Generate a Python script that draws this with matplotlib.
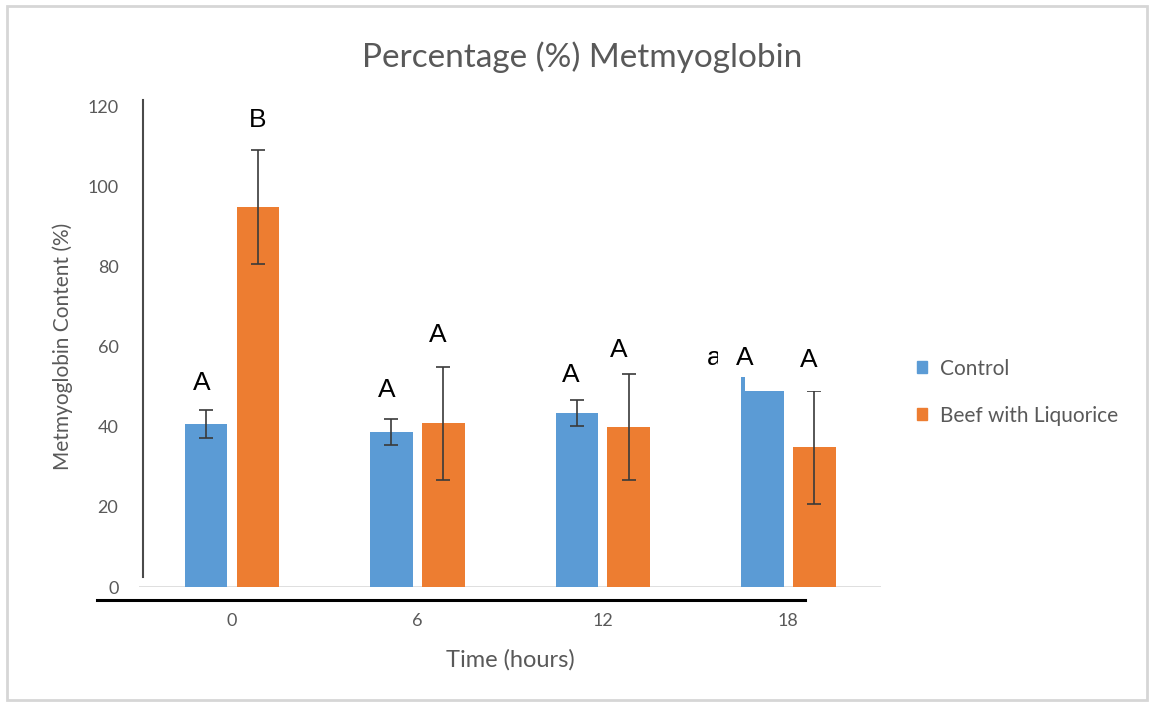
import matplotlib
matplotlib.use("Agg")
import matplotlib.pyplot as plt
from matplotlib.patches import Patch, Rectangle
from matplotlib.lines import Line2D
import numpy as np

# values
hours = ["0", "6", "12", "18"]
control = [40.7, 38.7, 43.4, 52.5]
control_err = [3.5, 3.2, 3.3, 3.0]
liquorice = [94.8, 40.8, 39.9, 34.9]
liquorice_err = [14.2, 14.0, 13.3, 14.1]

# significance letters: (label, category, x offset, y)
letters = [
    ("A", 0, -0.161, 50.9),
    ("B", 0, 0.14, 116.5),
    ("A", 1, -0.167, 49.1),
    ("A", 1, 0.108, 62.8),
    ("A", 2, -0.172, 52.9),
    ("A", 2, 0.086, 59.1),
    ("a", 3, -0.40, 57.1),
    ("A", 3, -0.237, 57.1),
    ("A", 3, 0.113, 56.6),
]

BLUE = "#5B9BD5"
ORANGE = "#ED7D31"
GRAY = "#595959"

plt.rcParams['font.family'] = ['Lato', 'DejaVu Sans']

fig = plt.figure(figsize=(11.5, 7.02), dpi=100)
ax = fig.add_axes([0.1211, 0.1638, 0.645, 0.6852])

x = np.arange(len(hours))
width = 0.23
off = 0.14
err_style = dict(ecolor="#3a3a3a", elinewidth=1.2, capsize=5, capthick=1.2)
ax.bar(x - off, control, width, color=BLUE, yerr=control_err,
       error_kw=err_style, label="Control", zorder=2)
ax.bar(x + off, liquorice, width, color=ORANGE, yerr=liquorice_err,
       error_kw=err_style, label="Beef with Liquorice", zorder=2)

# white text boxes pasted over the chart hide part of the last blue bar
ax.add_patch(Rectangle((3 - off - width / 2 + 0.022, 49.0), 0.5, 12,
                       facecolor="white", edgecolor="none", zorder=4))
ax.add_patch(Rectangle((3 - 0.378, 53.5), 0.06, 8,
                       facecolor="white", edgecolor="none", zorder=6))

for lab, i, dx, y in letters:
    ax.text(i + dx, y, lab, ha="center", va="center", fontsize=19,
            family=["Liberation Sans"], color="black", zorder=5)

ax.set_xlim(-0.5, 3.5)
ax.set_ylim(0, 120)
ax.set_xticks(x)
ax.set_xticklabels(hours)
ax.set_yticks(range(0, 121, 20))
ax.tick_params(length=0, labelsize=13, labelcolor=GRAY)
ax.tick_params(axis="x", pad=19)
ax.tick_params(axis="y", pad=15)
for s in ax.spines.values():
    s.set_visible(False)
ax.axhline(0, color="#D9D9D9", lw=1.2, zorder=1)

ax.set_xlabel("Time (hours)", fontsize=17, color=GRAY, labelpad=14)
ax.set_ylabel("Metmyoglobin Content (%)", fontsize=15, color=GRAY, labelpad=10)

fig.text(0.506, 0.919, "Percentage (%) Metmyoglobin", ha="center", va="center",
         fontsize=24, color=GRAY)

handles = [Patch(color=BLUE), Patch(color=ORANGE)]
fig.legend(handles, ["Control", "Beef with Liquorice"], loc="upper left",
           bbox_to_anchor=(0.781, 0.516), frameon=False, fontsize=15,
           handlelength=0.5, handleheight=0.5, handletextpad=0.6,
           labelspacing=1.3, labelcolor=GRAY)

# hand drawn lines on the original screenshot
W, H = 1150, 702
fig.add_artist(Line2D([143 / W, 143 / W], [1 - 100 / H, 1 - 577 / H],
                      color="#4a4a4a", lw=1.5))
fig.add_artist(Line2D([97 / W, 805 / W], [1 - 600 / H, 1 - 600 / H],
                      color="black", lw=2.2))
# screenshot frame
fig.add_artist(Rectangle((7 / W, 1 - 700 / H), 1140 / W, 694 / H,
                         fill=False, edgecolor="#D6D6D6", lw=2))

fig.savefig("out.png", dpi=100)
